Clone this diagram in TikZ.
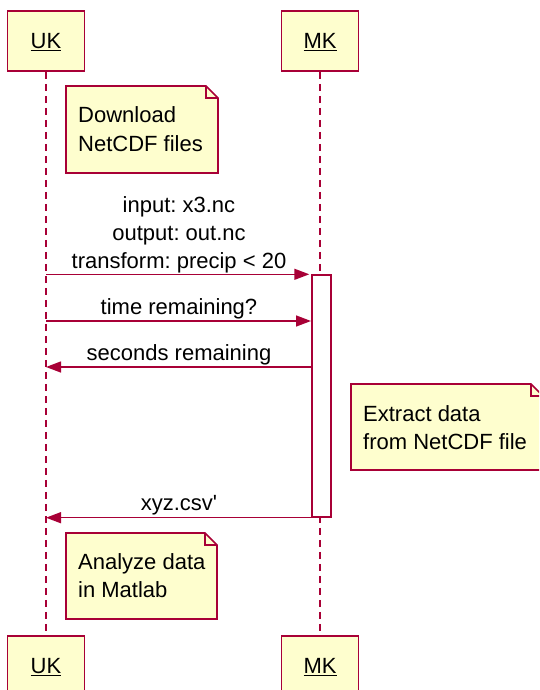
\documentclass[tikz,border=0pt]{standalone}
\usepackage{fontspec}
\setmainfont{Liberation Sans}[Ligatures=TeXOff]
\usetikzlibrary{arrows.meta}
\definecolor{umlborder}{HTML}{A80036}
\definecolor{umlfill}{HTML}{FEFECE}
\frenchspacing
\tikzset{
  pics/notepaper/.style 2 args={code={
    \draw[notebox] (0,0) -- ({#1-12},0) -- (#1,12) -- (#1,#2) -- (0,#2) -- cycle;
    \draw[notebox, fill=none] ({#1-12},0) -- ({#1-12},12) -- (#1,12);
  }}
}
\begin{document}
\begin{tikzpicture}[x=1pt, y=-1pt,
  every node/.style={font=\fontsize{22}{28}\selectfont, inner sep=0pt},
  participant/.style={draw=umlborder, fill=umlfill, line width=1.6pt,
    minimum width=77pt, minimum height=60pt, text depth=0pt},
  lifeline/.style={draw=umlborder, line width=1.4pt, dash pattern=on 7pt off 5pt},
  activation/.style={draw=umlborder, fill=white, line width=1.4pt,
    minimum width=19pt, minimum height=242pt},
  msg/.style={draw=umlborder, line width=1.4pt,
    -{Triangle[length=15pt, width=11pt]}},
  notebox/.style={draw=umlborder, fill=umlfill, line width=1.6pt, line join=miter},
  lbl/.style={anchor=base, text=black},
  notetext/.style={anchor=base west, text=black}]
\useasboundingbox (0,0) rectangle (539,690);
\clip (0,0) rectangle (539,690);

% participants
\node[participant] (ukTop) at (46,41) {\underline{UK}};
\node[participant] (mkTop) at (320,41) {\underline{MK}};
\node[participant] (ukBot) at (46,666) {\underline{UK}};
\node[participant] (mkBot) at (320,666) {\underline{MK}};

% lifelines
\draw[lifeline] (ukTop.south) -- (ukBot.north);
\draw[lifeline] (mkTop.south) -- (mkBot.north);

% activation of MK
\node[activation] (act) at (321.5,396) {};

% message end points
\coordinate (m2s) at (46,321);
\coordinate (m2e) at (312,321);
\coordinate (r1s) at (312,367);
\coordinate (r1e) at (46,367);

% messages
\draw[msg, shorten >=2pt] (ukTop.south |- act.north west) -- (act.north west);
\draw[msg, shorten >=1pt] (m2s) -- (m2e);
\draw[msg] (r1s) -- (r1e);
\draw[msg] (act.south west) -- (ukTop.south |- act.south west);

% message labels
\node[lbl] (l1a) at (179,212) {input: x3.nc};
\node[lbl] (l1b) at (179,240) {output: out.nc};
\node[lbl] (l1c) at (179,268) {transform: precip < 20};
\node[lbl] (l2) at (179,314) {time remaining?};
\node[lbl] (l3) at (179,360) {seconds remaining};
\node[lbl] (l4) at (179,510) {xyz.csv'};

% notes
\pic at (66,86) {notepaper={152}{87}};
\node[notetext] (n1a) at (78,123) {Download};
\node[notetext] (n1b) at (78,151) {NetCDF files};

\pic at (351,384) {notepaper={192}{86}};
\node[notetext] (n2a) at (363,421) {Extract data};
\node[notetext] (n2b) at (363,449) {from NetCDF file};

\pic at (66,533) {notepaper={151}{86}};
\node[notetext] (n3a) at (78,569) {Analyze data};
\node[notetext] (n3b) at (78,597) {in Matlab};
\end{tikzpicture}
\end{document}
